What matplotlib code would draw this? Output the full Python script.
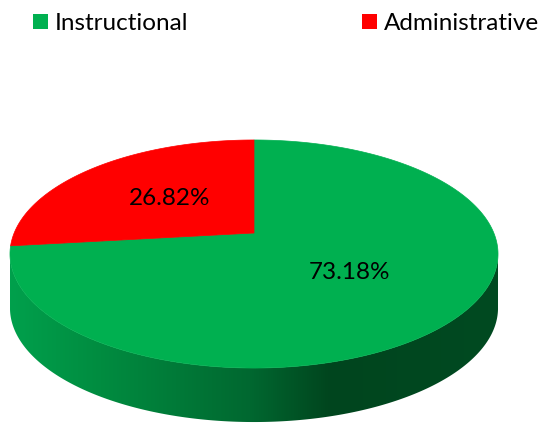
import numpy as np
import matplotlib
matplotlib.use("Agg")
import matplotlib.pyplot as plt
from matplotlib.patches import Polygon, Patch
from matplotlib.colors import LinearSegmentedColormap

# ---- data ----
categories = ["Instructional", "Administrative"]
values = [73.18, 26.82]
label_texts = ["73.18%", "26.82%"]
colors = ["#00B050", "#FF0000"]

plt.rcParams['font.family'] = ['Lato', 'DejaVu Sans']

W, H = 544, 424
fig = plt.figure(figsize=(W / 100, H / 100), dpi=100)
ax = fig.add_axes([0, 0, 1, 1])
ax.set_xlim(0, W)
ax.set_ylim(H, 0)
ax.axis('off')

# ---- 3D pie projection parameters (layout) ----
cx, cy = 254.0, 233.0
f = 1156.5
c_el = 0.4593
s_el = np.sqrt(1 - c_el ** 2)
d = 4.822
thick = 54.0  # side thickness in px


def proj(X, Y):
    depth = d + Y * s_el
    return cx + f * X / depth, cy - f * (Y * c_el) / depth


def arc(t0, t1, n=300):
    t = np.radians(np.linspace(t0, t1, n))
    return proj(np.cos(t), np.sin(t))


total = float(sum(values))
# slices go clockwise from 12 o'clock
starts, ends = [], []
a = 90.0
for v in values:
    span = v / total * 360.0
    starts.append(a)
    ends.append(a - span)
    a -= span

# ---- side (visible front part between silhouette tangent points) ----
ts = np.degrees(np.arcsin(-s_el / d))
t_left = 180.0 - ts
t_right = 360.0 + ts
xt, yt = arc(t_left, t_right, 400)
side_x = np.concatenate([xt, xt[::-1]])
side_y = np.concatenate([yt, yt[::-1] + thick])
side_poly = Polygon(np.column_stack([side_x, side_y]), closed=True,
                    facecolor='none', edgecolor='none')
ax.add_patch(side_poly)

grad_stops = [(0.0, "#00a04c"), ((100 - 10) / 488, "#008c40"),
              ((250 - 10) / 488, "#006830"), ((330 - 10) / 488, "#00451e"),
              (1.0, "#004a21")]
cmap = LinearSegmentedColormap.from_list("side", grad_stops)
grad = np.linspace(0, 1, 512)[None, :]
im = ax.imshow(grad, cmap=cmap, aspect='auto',
               extent=(cx - 244, cx + 244, cy + 200, cy - 20),
               interpolation='bilinear', zorder=1)
im.set_clip_path(side_poly)
ax.set_xlim(0, W)
ax.set_ylim(H, 0)

# ---- top faces ----
for st, en, col in zip(starts, ends, colors):
    ax_, ay_ = arc(st, en, 300)
    px = np.concatenate([[cx], ax_])
    py = np.concatenate([[cy], ay_])
    ax.add_patch(Polygon(np.column_stack([px, py]), closed=True,
                         facecolor=col, edgecolor=col, linewidth=0.5, zorder=2))

# ---- labels ----
for st, en, txt in zip(starts, ends, label_texts):
    mid = np.radians((st + en) / 2)
    lx, ly = proj(0.5 * np.cos(mid), 0.5 * np.sin(mid))
    ax.text(lx, ly, txt, ha='center', va='center', fontsize=17.5,
            color='black', zorder=3)

# ---- legend ----
handles = [Patch(facecolor=col, edgecolor='none', label=cat)
           for cat, col in zip(categories, colors)]
leg = ax.legend(handles=handles, loc='upper left', ncol=2,
                bbox_to_anchor=(33 / W, 1 - 13 / H), bbox_transform=fig.transFigure,
                frameon=False, fontsize=17.5, borderpad=0, borderaxespad=0,
                handlelength=0.6, handleheight=0.6, handletextpad=0.3,
                columnspacing=7.15)

fig.savefig("out.png", dpi=100)
